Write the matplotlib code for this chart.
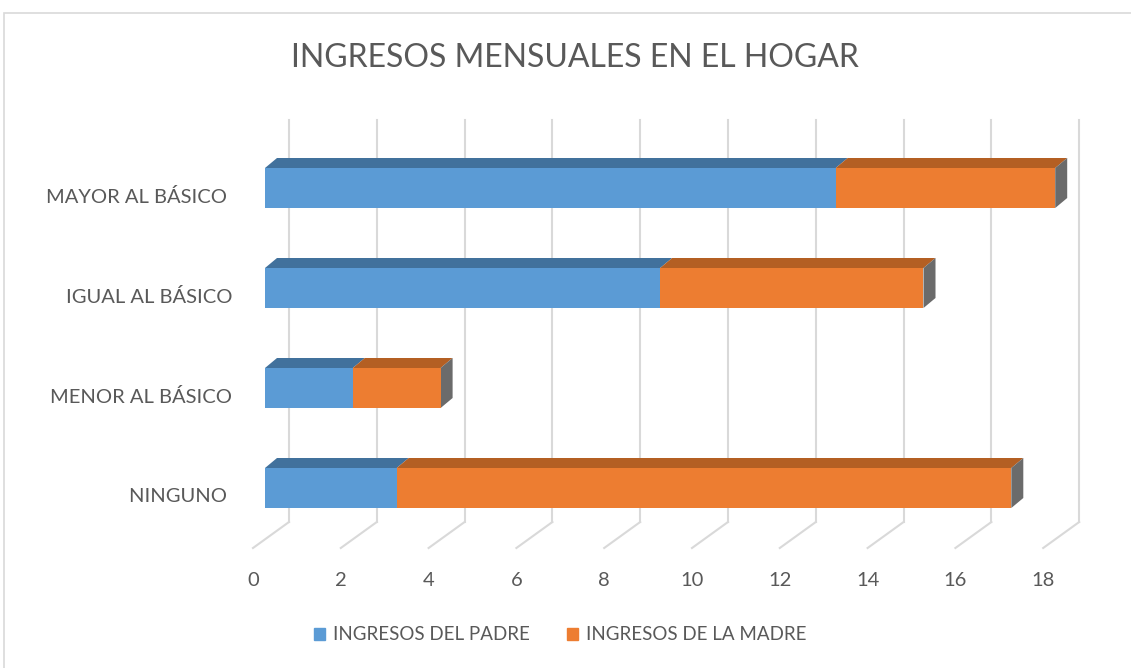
import numpy as np
import matplotlib.pyplot as plt
from matplotlib.patches import Polygon, Rectangle

# Data
categories = ["NINGUNO ", "MENOR AL BÁSICO", "IGUAL AL BÁSICO", "MAYOR AL BÁSICO "]
padre = [3, 2, 9, 13]
madre = [14, 2, 6, 5]
series_names = ["INGRESOS DEL PADRE", "INGRESOS DE LA MADRE"]
xticks = list(range(0, 20, 2))

# Style
blue, blue_top = "#5B9BD5", "#41719C"
orange, orange_top = "#ED7D31", "#B45F23"
side_grey = "#6B6B6B"
grid_col = "#D9D9D9"
text_col = "#595959"
plt.rcParams["font.family"] = ["Lato", "DejaVu Sans"]

W, H = 1131, 668
px_per_unit = 43.9   # horizontal pixels per value unit
px_per_cat = 100.0   # vertical pixels per category
x0_px, y0_px = 265, 488   # front face origin of value 0 / first category

fig = plt.figure(figsize=(W / 100, H / 100), dpi=100)
ax = fig.add_axes([0, 0, 1, 1])
ax.set_xlim(-x0_px / px_per_unit, (W - x0_px) / px_per_unit)
ax.set_ylim((y0_px - H) / px_per_cat, y0_px / px_per_cat)
ax.axis("off")

# depth offsets (oblique projection)
bar_dx, bar_dy = 12 / px_per_unit, 10 / px_per_cat
wall_dx = 24 / px_per_unit
floor_dx = -12 / px_per_unit
y_wall_top = (y0_px - 120) / px_per_cat
y_wall_bot = (y0_px - 522) / px_per_cat
y_floor = (y0_px - 548) / px_per_cat
bar_h = 0.4

# back wall gridlines and floor lines
for v in xticks:
    ax.plot([v + wall_dx, v + wall_dx], [y_wall_bot, y_wall_top],
            color=grid_col, lw=1.5, zorder=1)
    ax.plot([v + wall_dx, v + floor_dx], [y_wall_bot, y_floor],
            color=grid_col, lw=1.5, zorder=1)
    ax.text(v + floor_dx, y_floor - 0.32, str(v), ha="center", va="center",
            fontsize=14.5, color=text_col)

y = np.arange(len(categories))
left = np.zeros(len(categories))
for vals, front, top in [(padre, blue, blue_top), (madre, orange, orange_top)]:
    vals = np.array(vals, dtype=float)
    ax.barh(y, vals, left=left, height=bar_h, color=front, zorder=3)
    for yi, l, v in zip(y, left, vals):
        t = yi + bar_h / 2
        ax.add_patch(Polygon([(l, t), (l + v, t), (l + v + bar_dx, t + bar_dy),
                              (l + bar_dx, t + bar_dy)],
                             closed=True, facecolor=top, edgecolor="none", zorder=2))
    left = left + vals

# end caps
for yi, r in zip(y, left):
    b, t = yi - bar_h / 2, yi + bar_h / 2
    ax.add_patch(Polygon([(r, b), (r, t), (r + bar_dx, t + bar_dy), (r + bar_dx, b + bar_dy)],
                         closed=True, facecolor=side_grey, edgecolor="none", zorder=2))

# category labels
for yi, c in zip(y, categories):
    ax.text(-33 / px_per_unit, yi - 0.09, c, ha="right", va="center",
            fontsize=14.5, color=text_col)

# title
fig.text(575 / W, 1 - 58 / H, "INGRESOS MENSUALES EN EL HOGAR", ha="center",
         va="center", fontsize=23, color=text_col)

# legend
handles = [Rectangle((0, 0), 1, 1, color=blue), Rectangle((0, 0), 1, 1, color=orange)]
fig.legend(handles, series_names, loc="center", bbox_to_anchor=(560 / W, 1 - 635 / H),
           ncol=2, frameon=False, fontsize=13.5, labelcolor=text_col,
           handlelength=0.6, handleheight=0.6, handletextpad=0.4, columnspacing=2.0)

# chart border
fig.patches.append(Rectangle((4 / W, -0.1), 1.2, 1 - 13 / H + 0.1, transform=fig.transFigure,
                             fill=False, edgecolor=grid_col, lw=1.2))

fig.savefig("out.png", dpi=100)
